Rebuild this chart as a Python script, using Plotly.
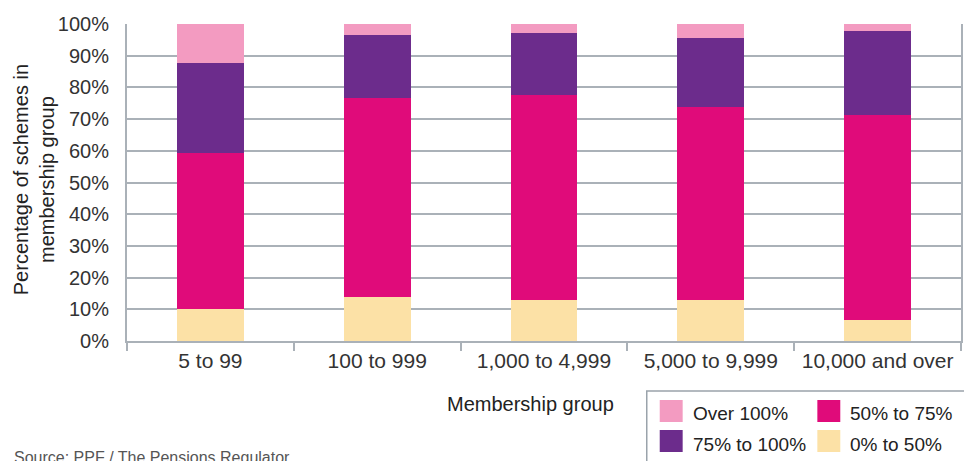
import plotly.graph_objects as go

# Membership groups and the share of schemes in each funding band (%)
groups = ["5 to 99", "100 to 999", "1,000 to 4,999", "5,000 to 9,999", "10,000 and over"]
band_0_50 = [10.2, 13.8, 13.0, 13.0, 6.5]
band_50_75 = [49.1, 62.9, 64.5, 60.7, 64.7]
band_75_100 = [28.4, 19.8, 19.6, 21.8, 26.5]
band_over_100 = [12.3, 3.5, 2.9, 4.5, 2.3]

y_ticks = list(range(0, 101, 10))
y_tick_text = [f"{v}%" for v in y_ticks]

series = [
    ("0% to 50%", band_0_50, "#fce1a6"),
    ("50% to 75%", band_50_75, "#e00b7a"),
    ("75% to 100%", band_75_100, "#6c2c8c"),
    ("Over 100%", band_over_100, "#f39bc1"),
]

W, H = 964, 461
ML, MR, MT, MB = 127, 1, 24, 120
PW, PH = W - ML - MR, H - MT - MB

def px(x):
    return (x - ML) / PW

def py(y):
    return (H - MB - y) / PH

BODY = "Liberation Sans"
TEXT = "#333333"
GRID = "#aab1b8"

fig = go.Figure()
for name, vals, color in series:
    fig.add_trace(go.Bar(
        x=groups, y=vals, name=name, marker=dict(color=color, line=dict(width=0)),
        width=0.4, showlegend=False,
    ))

fig.update_layout(
    width=W, height=H, barmode="stack",
    margin=dict(l=ML, r=MR, t=MT, b=MB),
    plot_bgcolor="white", paper_bgcolor="white",
    font=dict(family=BODY, color=TEXT, size=20),
    xaxis=dict(
        showline=True, linecolor=GRID, linewidth=2,
        ticks="outside", tickson="boundaries", ticklen=8, tickcolor=GRID, tickwidth=2,
        tickfont=dict(size=21, color=TEXT), showgrid=False,
    ),
    yaxis=dict(
        range=[0, 100], tickvals=y_ticks, ticktext=y_tick_text,
        showgrid=True, gridcolor=GRID, gridwidth=2,
        showline=True, linecolor=GRID, linewidth=2, mirror=True,
        ticks="", ticklabelstandoff=12, zeroline=False,
        tickfont=dict(size=20, color=TEXT),
    ),
)

annotations = [
    dict(x=px(531), y=py(404), text="Membership group", showarrow=False,
         font=dict(family=BODY, size=20, color="#222222"), xanchor="center", yanchor="middle"),
    dict(x=px(34), y=py(180), text="Percentage of schemes in<br>membership group", showarrow=False,
         textangle=-90, font=dict(family=BODY, size=20, color="#222222"),
         xanchor="center", yanchor="middle"),
    dict(x=px(12), y=py(457), text="Source: PPF / The Pensions Regulator", showarrow=False,
         font=dict(family=BODY, size=16, color="#555555"), xanchor="left", yanchor="middle"),
]

shapes = [
    dict(type="rect", xref="paper", yref="paper", x0=px(648), x1=px(975), y0=py(391), y1=py(475),
         line=dict(color="#9aa3ab", width=1.5), fillcolor="white", layer="above"),
]

# Legend laid out in two columns
legend_items = [
    ("Over 100%", "#f39bc1", 661, 411),
    ("50% to 75%", "#e00b7a", 819, 411),
    ("75% to 100%", "#6c2c8c", 661, 441),
    ("0% to 50%", "#fce1a6", 819, 441),
]
for label, color, sx, sy in legend_items:
    shapes.append(dict(type="rect", xref="paper", yref="paper",
                       x0=px(sx), x1=px(sx + 23), y0=py(sy - 11), y1=py(sy + 11),
                       line=dict(width=0), fillcolor=color, layer="above"))
    annotations.append(dict(x=px(sx + 31), y=py(sy + 3), text=label, showarrow=False,
                            font=dict(family=BODY, size=19, color="#222222"),
                            xanchor="left", yanchor="middle"))

fig.update_layout(annotations=annotations, shapes=shapes)
for a in fig.layout.annotations:
    a.xref = "paper"
    a.yref = "paper"

fig.write_html("out.html")
